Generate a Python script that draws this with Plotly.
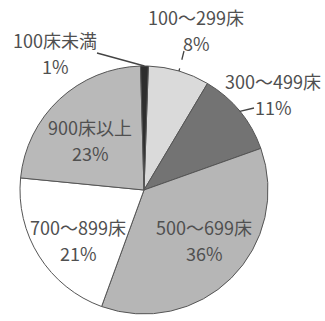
import math
import plotly.graph_objects as go

labels = ["100～299床", "300～499床", "500～699床", "700～899床", "900床以上", "100床未満"]
values = [8, 11, 36, 21, 23, 1]
colors = ["#dadada", "#737373", "#b6b6b6", "#ffffff", "#b9b9b9", "#2e2e2e"]

W, H = 325, 321
L, R, T, B = 20, 57, 66, 7
ROT = 2
FONT = dict(family="Noto Sans CJK JP", size=18, color="#505050")
LINE_GAP = 26

# label block centres as pixel offsets from the pie centre
label_pos = {
    0: (52, -160),
    1: (129, -96),
    2: (60, 50),
    3: (-66, 50),
    4: (-54, -50),
    5: (-89, -137),
}
# leader line start points (pixel offsets from the pie centre) for outside labels
leader_start = {0: (40, -139), 1: (110, -82), 5: (-47, -137)}
leader_dash = {0: "dash", 1: "solid", 5: "solid"}

fig = go.Figure(go.Pie(
    labels=labels,
    values=values,
    sort=False,
    direction="clockwise",
    rotation=ROT,
    marker=dict(colors=colors, line=dict(color="#555555", width=1)),
    textinfo="none",
    showlegend=False,
    hoverinfo="label+percent",
    domain=dict(x=[0, 1], y=[0, 1]),
))

pw, ph = W - L - R, H - T - B
cx, cy = L + pw / 2, T + ph / 2
r = min(pw, ph) / 2


def to_paper(px, py):
    return (px - L) / pw, 1 - (py - T) / ph


total = sum(values)
cum = 0
for i, v in enumerate(values):
    mid = math.radians(ROT) + (cum + v / 2) / total * 2 * math.pi
    cum += v
    dx, dy = label_pos[i]
    lx, ly = cx + dx, cy + dy
    for k, t in enumerate([labels[i], f"{v}%"]):
        x, y = to_paper(lx, ly + (k - 0.5) * LINE_GAP)
        fig.add_annotation(x=x, y=y, xref="paper", yref="paper", text=t,
                           showarrow=False, font=FONT,
                           xanchor="center", yanchor="middle")
    if i in leader_start:
        ex, ey = cx + r * math.sin(mid), cy - r * math.cos(mid)
        sx, sy = cx + leader_start[i][0], cy + leader_start[i][1]
        x0, y0 = to_paper(sx, sy)
        x1, y1 = to_paper(ex, ey)
        fig.add_shape(type="line", xref="paper", yref="paper", layer="above",
                      x0=x0, y0=y0, x1=x1, y1=y1,
                      line=dict(color="#444444", width=1.3, dash=leader_dash[i]))

fig.update_layout(
    width=W, height=H,
    margin=dict(l=L, r=R, t=T, b=B),
    paper_bgcolor="white",
    plot_bgcolor="white",
)

fig.write_html("out.html")
